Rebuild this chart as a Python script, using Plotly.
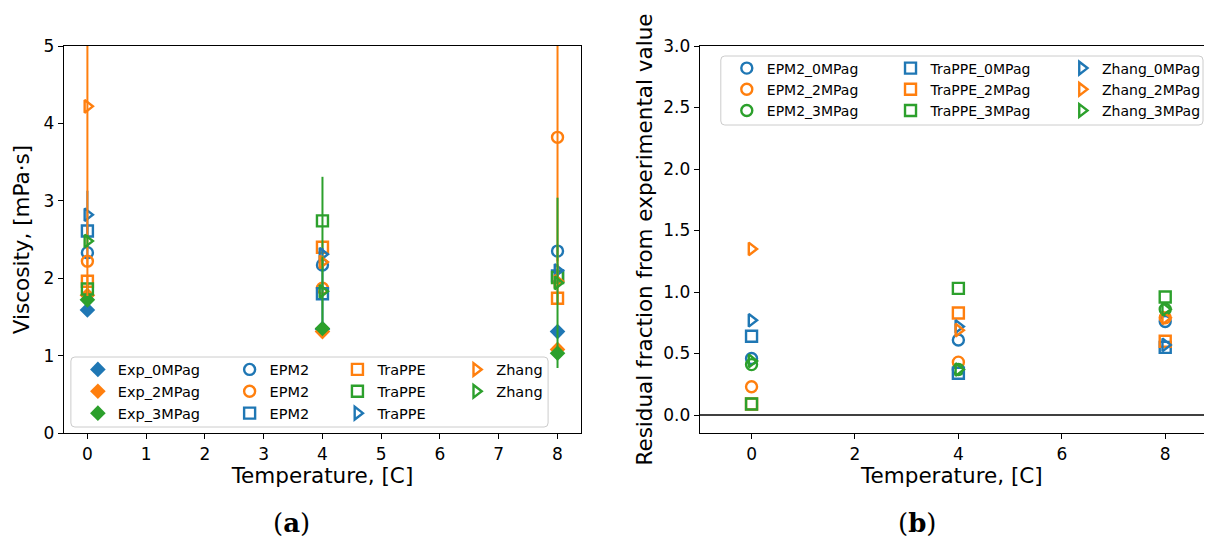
import plotly.graph_objects as go

# ---------------- data ----------------
temps = [0, 4, 8]

exp_0 = [1.59, 1.34, 1.31]
exp_2 = [1.78, 1.31, 1.08]
exp_3 = [1.72, 1.35, 1.03]
exp_labels = ["Exp_0MPag", "Exp_2MPag", "Exp_3MPag"]

# simulated viscosities (left panel) and their error bars
epm2_0 = [2.33, 2.17, 2.35]
epm2_0_err = [0.08, 0.08, 0.08]
epm2_2 = [2.22, 1.87, 3.82]
epm2_2_err = [0.08, 0.08, 1.6]
trappe_0 = [2.61, 1.80, 2.03]
trappe_0_err = [0.08, 0.38, 0.08]
trappe_2 = [1.96, 2.40, 1.74]
trappe_2_err = [0.08, 0.08, 0.08]
trappe_3 = [1.86, 2.74, 2.01]
trappe_3_err = [0.08, 0.57, 0.08]
zhang_0 = [2.82, 2.31, 2.10]
zhang_0_err = [0.31, 0.08, 0.08]
zhang_2 = [4.22, 2.21, 1.96]
zhang_2_err = [2.45, 0.08, 0.3]
zhang_3 = [2.48, 1.83, 1.94]
zhang_3_err = [0.08, 0.45, 1.1]
left_labels = ["EPM2", "EPM2", "EPM2", "TraPPE", "TraPPE", "TraPPE", "Zhang", "Zhang"]

# residual fractions (right panel)
res_epm2_0 = [0.46, 0.61, 0.76]
res_epm2_2 = [0.23, 0.43, 0.79]
res_epm2_3 = [0.41, 0.37, 0.86]
res_trappe_0 = [0.64, 0.34, 0.55]
res_trappe_2 = [0.09, 0.83, 0.60]
res_trappe_3 = [0.09, 1.03, 0.96]
res_zhang_0 = [0.77, 0.72, 0.57]
res_zhang_2 = [1.35, 0.69, 0.79]
res_zhang_3 = [0.44, 0.37, 0.86]
right_labels = ["EPM2_0MPag", "EPM2_2MPag", "EPM2_3MPag",
                "TraPPE_0MPag", "TraPPE_2MPag", "TraPPE_3MPag",
                "Zhang_0MPag", "Zhang_2MPag", "Zhang_3MPag"]

# ---------------- style ----------------
W, H = 1206, 541
BLUE, ORANGE, GREEN = "#1f77b4", "#ff7f0e", "#2ca02c"
FONT = "DejaVu Sans"


def px(x):
    return x / W


def py(y):
    return 1 - y / H


fig = go.Figure()

# experimental diamonds
for vals, col, lab in zip([exp_0, exp_2, exp_3], [BLUE, ORANGE, GREEN], exp_labels):
    fig.add_trace(go.Scatter(
        x=temps, y=vals, mode="markers", name=lab, legend="legend",
        marker=dict(symbol="diamond", size=12, color=col, line=dict(width=0)),
        xaxis="x", yaxis="y"))

left_series = [
    (epm2_0, epm2_0_err, BLUE, "circle-open", "legend2"),
    (epm2_2, epm2_2_err, ORANGE, "circle-open", "legend2"),
    (trappe_0, trappe_0_err, BLUE, "square-open", "legend2"),
    (trappe_2, trappe_2_err, ORANGE, "square-open", "legend3"),
    (trappe_3, trappe_3_err, GREEN, "square-open", "legend3"),
    (zhang_0, zhang_0_err, BLUE, "triangle-right-open", "legend3"),
    (zhang_2, zhang_2_err, ORANGE, "triangle-right-open", "legend4"),
    (zhang_3, zhang_3_err, GREEN, "triangle-right-open", "legend4"),
]
for (vals, err, col, sym, lg), lab in zip(left_series, left_labels):
    fig.add_trace(go.Scatter(
        x=temps, y=vals, mode="markers", name=lab, legend=lg,
        error_y=dict(type="data", array=err, color=col, thickness=2, width=0),
        marker=dict(symbol=sym, size=11, color=col, line=dict(width=2.4, color=col)),
        xaxis="x", yaxis="y"))

right_series = [
    (res_epm2_0, BLUE, "circle-open", "legend5"),
    (res_epm2_2, ORANGE, "circle-open", "legend5"),
    (res_epm2_3, GREEN, "circle-open", "legend5"),
    (res_trappe_0, BLUE, "square-open", "legend6"),
    (res_trappe_2, ORANGE, "square-open", "legend6"),
    (res_trappe_3, GREEN, "square-open", "legend6"),
    (res_zhang_0, BLUE, "triangle-right-open", "legend7"),
    (res_zhang_2, ORANGE, "triangle-right-open", "legend7"),
    (res_zhang_3, GREEN, "triangle-right-open", "legend7"),
]
for (vals, col, sym, lg), lab in zip(right_series, right_labels):
    fig.add_trace(go.Scatter(
        x=temps, y=vals, mode="markers", name=lab, legend=lg,
        marker=dict(symbol=sym, size=11, color=col, line=dict(width=2.4, color=col)),
        xaxis="x2", yaxis="y2"))

# ---------------- axes ----------------
tickfont = dict(family=FONT, size=17, color="black")
titlefont = dict(family=FONT, size=21.5, color="black")
common = dict(showgrid=False, zeroline=False, ticks="outside", ticklen=5, tickwidth=1.2,
              tickcolor="black", showline=True, linecolor="black", linewidth=1.2,
              tickfont=tickfont, automargin=False)

ydom = [py(433), py(46)]
fig.update_layout(
    xaxis=dict(domain=[px(64), px(582)], range=[-0.4, 8.4], dtick=1, tick0=0, mirror=True,
               anchor="y", title=dict(text="Temperature, [C]", font=titlefont, standoff=5), **common),
    yaxis=dict(domain=ydom, range=[0, 5], dtick=1, tick0=0, mirror=True, anchor="x",
               title=dict(text="Viscosity, [mPa·s]", font=titlefont, standoff=8), **common),
    xaxis2=dict(domain=[px(701), 1.0], range=[-1, 8.75], dtick=2, tick0=0, mirror=True,
                anchor="y2", title=dict(text="Temperature, [C]", font=titlefont, standoff=5), **common),
    yaxis2=dict(domain=ydom, range=[-0.146, 3.0], dtick=0.5, tick0=0, tickformat=".1f",
                anchor="x2", mirror=False,
                title=dict(text="Residual fraction from experimental value", font=titlefont, standoff=4),
                **common),
)

# horizontal line at zero in right panel
fig.add_shape(type="line", xref="x2 domain", yref="y2", x0=0, x1=1, y0=0, y1=0,
              line=dict(color="black", width=1.6), layer="above")


# rounded legend frames
def rounded_rect(x0, y0, x1, y1, r=4):
    X = lambda v: px(v)
    Y = lambda v: py(v)
    return (f"M {X(x0 + r)},{Y(y0)} L {X(x1 - r)},{Y(y0)} Q {X(x1)},{Y(y0)} {X(x1)},{Y(y0 + r)} "
            f"L {X(x1)},{Y(y1 - r)} Q {X(x1)},{Y(y1)} {X(x1 - r)},{Y(y1)} "
            f"L {X(x0 + r)},{Y(y1)} Q {X(x0)},{Y(y1)} {X(x0)},{Y(y1 - r)} "
            f"L {X(x0)},{Y(y0 + r)} Q {X(x0)},{Y(y0)} {X(x0 + r)},{Y(y0)} Z")


for (a, b, c, d) in [(71, 357, 549, 427), (722, 56, 1205, 125)]:
    fig.add_shape(type="path", xref="paper", yref="paper", path=rounded_rect(a, b, c, d),
                  fillcolor="rgba(255,255,255,0.8)", line=dict(color="#cccccc", width=1),
                  layer="above")

leg_common = dict(orientation="v", xanchor="left", yanchor="top", bgcolor="rgba(0,0,0,0)",
                  borderwidth=0, tracegroupgap=0, itemsizing="trace")
left_leg_x = [78, 230, 338, 457]
right_leg_x = [728, 892, 1064]
layout_leg = {}
for i, xv in enumerate(left_leg_x):
    key = "legend" if i == 0 else f"legend{i + 1}"
    layout_leg[key] = dict(x=px(xv), y=py(353.5),
                           font=dict(family=FONT, size=14.5, color="black"), **leg_common)
for i, xv in enumerate(right_leg_x):
    layout_leg[f"legend{i + 5}"] = dict(x=px(xv), y=py(52.5),
                                        font=dict(family=FONT, size=14, color="black"), **leg_common)
fig.update_layout(**layout_leg)

# captions
for txt, xc in [("(<b>a</b>)", 292), ("(<b>b</b>)", 919)]:
    fig.add_annotation(text=txt, x=px(xc), y=py(523), xref="paper", yref="paper",
                       xanchor="center", yanchor="middle", showarrow=False,
                       font=dict(family="DejaVu Serif", size=26, color="black"))

fig.update_layout(width=W, height=H, autosize=False, margin=dict(l=0, r=0, t=0, b=0),
                  paper_bgcolor="white", plot_bgcolor="white", showlegend=True)

fig.write_html("out.html", config={"displayModeBar": False, "responsive": False},
               post_script="document.body.style.margin='0';document.body.style.overflow='hidden';")
